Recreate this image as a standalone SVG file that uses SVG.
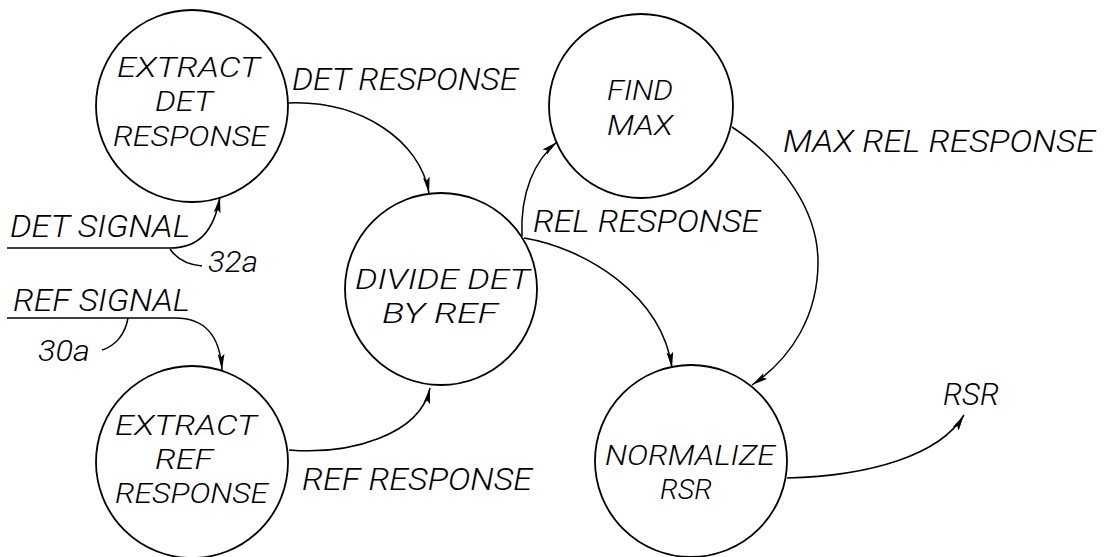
<svg xmlns="http://www.w3.org/2000/svg" width="1110" height="557" viewBox="0 0 1110 557">
<style>
.n{fill:none;stroke:#000;stroke-width:1.8}
.c{fill:none;stroke:#000;stroke-width:1.5}
text{font-family:Roboto,"Liberation Sans",sans-serif;font-style:italic;font-weight:300;font-size:31px;fill:#000}
.t{font-size:28px}
.s{font-size:29px}
</style>
<defs>
<marker id="a" markerUnits="userSpaceOnUse" markerWidth="18" markerHeight="10" refX="16" refY="4" orient="auto">
<path d="M0,0.6 L16,4 L0,7.4 L3,4 Z" fill="#000"/>
</marker>
</defs>
<rect width="1110" height="557" fill="#fff"/>
<g id="connectors">
<path class="c" d="M288,103 C360,100 420,140 429,193" marker-end="url(#a)"/>
<path class="c" d="M289,450 C350,455 420,435 430,388" marker-end="url(#a)"/>
<path class="c" d="M7,248 L170,248 C200,248 214,230 220,197" marker-end="url(#a)"/>
<path class="c" d="M170,249 Q180,264 202,266"/>
<path class="c" d="M7,318 L175,318 C205,318 220,335 222,370" marker-end="url(#a)"/>
<path class="c" d="M128,318 C125,335 115,346 102,350"/>
<path class="c" d="M522,236 C520,192 535,160 557,142" marker-end="url(#a)"/>
<path class="c" d="M524,238 C585,248 662,295 672,368" marker-end="url(#a)"/>
<path class="c" d="M732,127 C782,160 818,210 818,262 C818,315 792,358 752,385" marker-end="url(#a)"/>
<path class="c" d="M787,478 C870,476 940,455 964,415" marker-end="url(#a)"/>
</g>
<g id="extract-det">
<circle class="n" cx="192" cy="106" r="96"/>
<text class="t" x="117" y="77" textLength="143" lengthAdjust="spacingAndGlyphs">EXTRACT</text>
<text class="t" x="155" y="111" textLength="58" lengthAdjust="spacingAndGlyphs">DET</text>
<text class="t" x="113" y="146" textLength="155" lengthAdjust="spacingAndGlyphs">RESPONSE</text>
</g>
<g id="extract-ref">
<circle class="n" cx="192" cy="462" r="96"/>
<text class="t" x="115" y="435" textLength="142" lengthAdjust="spacingAndGlyphs">EXTRACT</text>
<text class="t" x="155" y="469" textLength="58" lengthAdjust="spacingAndGlyphs">REF</text>
<text class="t" x="115" y="503" textLength="153" lengthAdjust="spacingAndGlyphs">RESPONSE</text>
</g>
<g id="divide">
<circle class="n" cx="441" cy="289" r="96"/>
<text class="t" x="355" y="289" textLength="175" lengthAdjust="spacingAndGlyphs">DIVIDE DET</text>
<text class="t" x="382" y="323" textLength="116" lengthAdjust="spacingAndGlyphs">BY REF</text>
</g>
<g id="find-max">
<circle class="n" cx="641" cy="106" r="92"/>
<text class="t" x="607" y="100" textLength="66" lengthAdjust="spacingAndGlyphs">FIND</text>
<text class="t" x="607" y="135" textLength="66" lengthAdjust="spacingAndGlyphs">MAX</text>
</g>
<g id="normalize">
<circle class="n" cx="691" cy="461" r="96"/>
<text class="t" x="605" y="465" textLength="170" lengthAdjust="spacingAndGlyphs">NORMALIZE</text>
<text class="t" x="660" y="499" textLength="52" lengthAdjust="spacingAndGlyphs">RSR</text>
</g>
<g id="labels">
<text x="292" y="90" textLength="226" lengthAdjust="spacingAndGlyphs">DET RESPONSE</text>
<text x="10" y="237" textLength="180" lengthAdjust="spacingAndGlyphs">DET SIGNAL</text>
<text class="s" x="208" y="272" textLength="50" lengthAdjust="spacingAndGlyphs">32a</text>
<text x="13" y="311" textLength="177" lengthAdjust="spacingAndGlyphs">REF SIGNAL</text>
<text class="s" x="38" y="361" textLength="52" lengthAdjust="spacingAndGlyphs">30a</text>
<text x="302" y="490" textLength="230" lengthAdjust="spacingAndGlyphs">REF RESPONSE</text>
<text x="533" y="232" textLength="227" lengthAdjust="spacingAndGlyphs">REL RESPONSE</text>
<text x="783" y="152" textLength="312" lengthAdjust="spacingAndGlyphs">MAX REL RESPONSE</text>
<text x="943" y="405" textLength="56" lengthAdjust="spacingAndGlyphs">RSR</text>
</g>
</svg>
